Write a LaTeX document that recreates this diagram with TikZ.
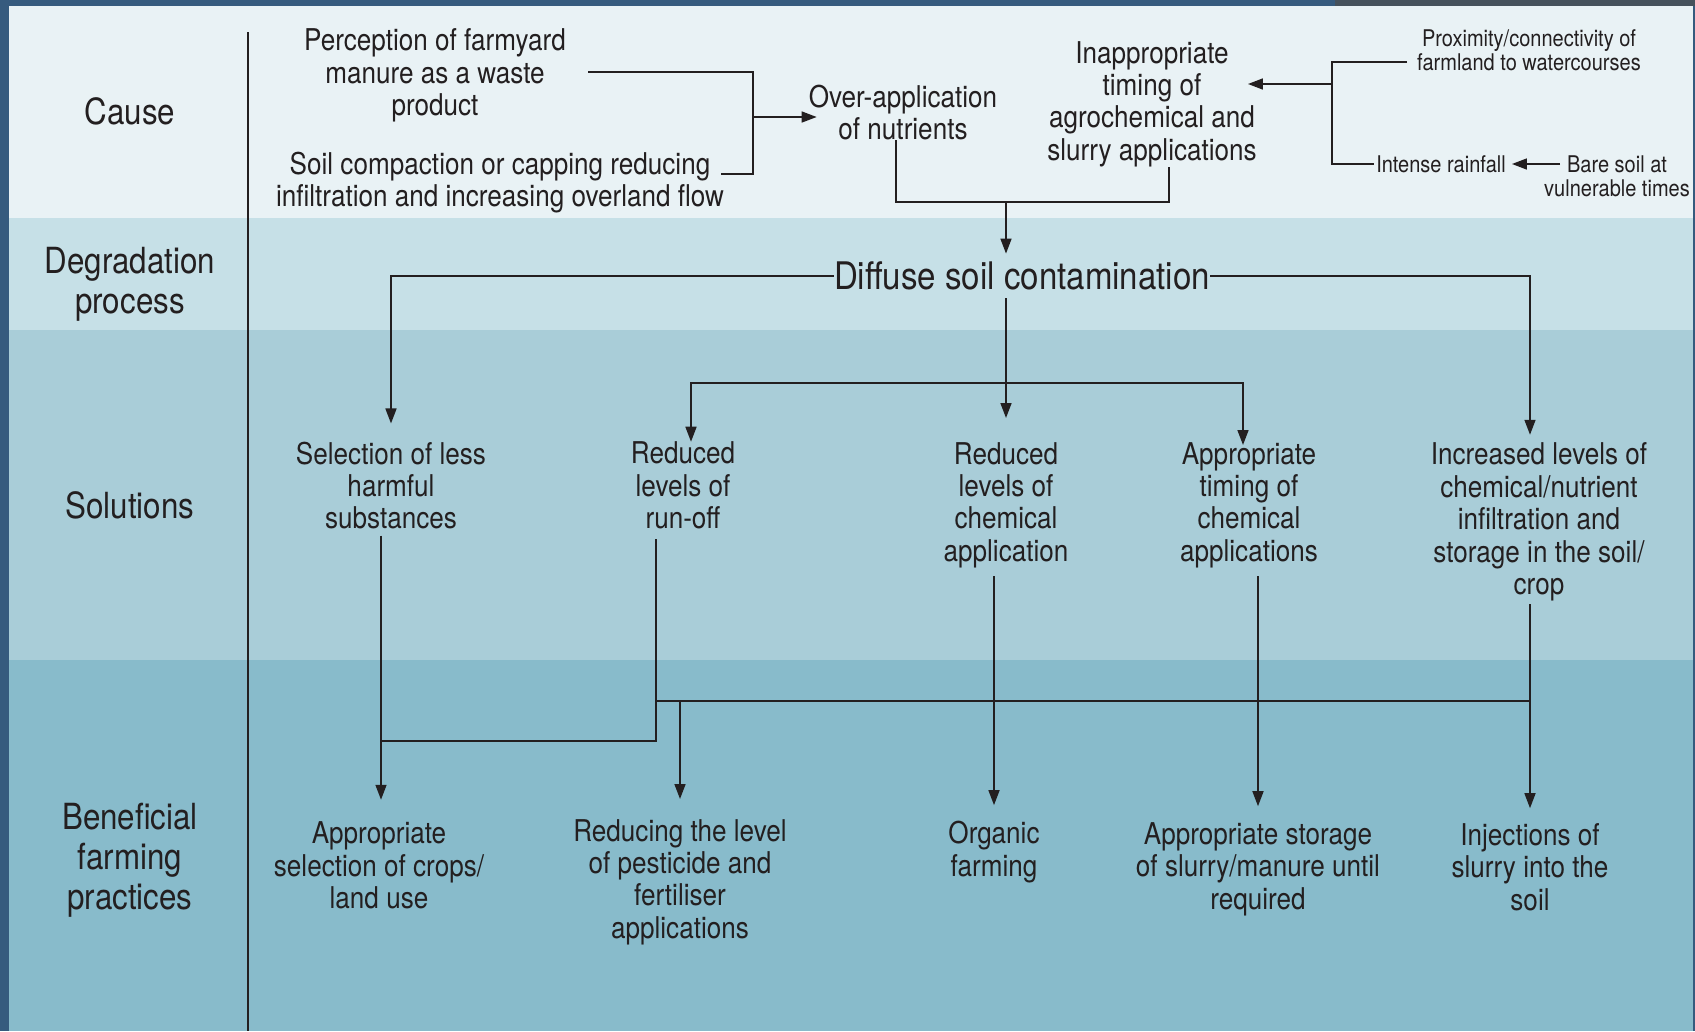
\documentclass[tikz,border=0pt]{standalone}
\usepackage{fontspec}
\setmainfont{TeX Gyre Heros}[FakeStretch=0.87]
\usetikzlibrary{arrows.meta,calc}
\definecolor{framecol}{HTML}{365B7E}
\definecolor{topdark}{HTML}{46525C}
\definecolor{bandA}{HTML}{E9F2F5}
\definecolor{bandB}{HTML}{C6E0E7}
\definecolor{bandC}{HTML}{A9CDD8}
\definecolor{bandD}{HTML}{88BBCB}
\definecolor{ink}{HTML}{231F20}
\tikzset{
  lbl/.style={font=\fontsize{36}{40}\selectfont, align=center, text=ink, inner sep=0pt},
  txt/.style={font=\fontsize{30}{32.4}\selectfont, align=center, text=ink, inner sep=0pt},
  sm/.style={font=\fontsize{23}{24}\selectfont, align=center, text=ink, inner sep=0pt},
  big/.style={font=\fontsize{38}{40}\selectfont, align=center, text=ink, inner sep=0pt},
  conn/.style={draw=ink, line width=1.6pt},
  arr/.style={conn, -{Triangle[length=15pt,width=11pt]}}
}
\begin{document}
\begin{tikzpicture}[x=1pt,y=-1pt]
\useasboundingbox (0,0) rectangle (1695,1031);
% background
\fill[framecol] (0,0) rectangle (1695,1031);
\fill[topdark] (1335,0) rectangle (1695,6);
\fill[bandA] (9,6) rectangle (1693,218);
\fill[bandB] (9,218) rectangle (1693,330);
\fill[bandC] (9,330) rectangle (1693,660);
\fill[bandD] (9,660) rectangle (1693,1031);
\draw[ink, line width=1.5pt] (248,32) -- (248,1031);

% row labels
\node[lbl] (cause) at (130,111) {Cause};
\node[lbl] (degr) at (130,284) {Degradation\\process};
\node[lbl] (sol) at (130,505) {Solutions};
\node[lbl] (ben) at (130,860) {Beneficial\\farming\\practices};

% causes
\node[txt] (perc) at (435,75.5) {Perception of farmyard\\manure as a waste\\product};
\node[txt] (soilc) at (500,182.7) {Soil compaction or capping reducing\\infiltration and increasing overland flow};
\node[txt] (over) at (903,112.4) {Over-application\\of nutrients};
\node[txt] (inapp) at (1152,104) {Inappropriate\\timing of\\agrochemical and\\slurry applications};
\node[sm] (prox) at (1529,50) {Proximity/connectivity of\\farmland to watercourses};
\node[sm] (rain) at (1441,164) {Intense rainfall};
\node[sm] (bare) at (1617,176) {Bare soil at\\vulnerable times};

% degradation
\node[big] (diff) at (1022,276) {Diffuse soil contamination};

% solutions
\node[txt] (sel) at (391,485.5) {Selection of less\\harmful\\substances};
\node[txt] (run) at (683,485.5) {Reduced\\levels of\\run-off};
\node[txt] (chem) at (1006,505) {Reduced\\levels of\\chemical\\application};
\node[txt] (timing) at (1249,505) {Appropriate\\timing of\\chemical\\applications};
\node[txt] (incr) at (1539,522) {Increased levels of\\chemical/nutrient\\infiltration and\\storage in the soil/\\crop};

% beneficial practices
\node[txt] (crops) at (379,865.5) {Appropriate\\selection of crops/\\land use};
\node[txt] (pest) at (680,882) {Reducing the level\\of pesticide and\\fertiliser\\applications};
\node[txt] (org) at (994,852) {Organic\\farming};
\node[txt] (stor) at (1258,869) {Appropriate storage\\of slurry/manure until\\required};
\node[txt] (inj) at (1530,867) {Injections of\\slurry into the\\soil};

% junction coordinates
\coordinate (pEnd) at (588,72);
\coordinate (sEnd) at (721,174);
\coordinate (jA) at (753,117);
\coordinate (jB) at (1006,202);
\coordinate (jC) at (1006,383);
\coordinate (jD) at (381,741);
\coordinate (jE) at (656,701);
\coordinate (jG) at (680,701);
\coordinate (jF) at (1530,701);
\coordinate (jH) at (1332,84);
\coordinate (jI) at (1332,62);

% cause connectors
\draw[conn] (pEnd) -| (jA) |- (sEnd);
\draw[arr] (jA) -- ([xshift=8pt]over.west |- jA);
\draw[conn] ([xshift=-7pt]over.south) |- (jB) -| ([xshift=17pt]inapp.south);
\draw[arr, shorten >=8pt] (jB) -- (jB |- diff.north);
\draw[conn] ([xshift=-10pt]prox.west |- jI) -- (jI) |- ([xshift=-2pt]rain.west);
\draw[arr] (jH) -- ([xshift=-9pt]inapp.east |- jH);
\draw[arr, shorten >=6pt] ([xshift=16pt]bare.west |- rain.east) -- (rain.east);

% degradation connectors
\draw[arr, shorten >=18pt] (diff.west) -| (sel.north);
\draw[arr, shorten >=8pt] (diff.east) -| (jF |- incr.north);
\draw[arr, shorten <=8pt, shorten >=24pt] (jB |- diff.south) -- (jB |- chem.north);
\draw[arr] (jC) -| ([xshift=8pt]run.north);
\draw[arr, shorten >=-3pt] (jC) -| ([xshift=-6pt]timing.north);

% solution connectors
\draw[arr, shorten <=6pt, shorten >=22pt] (jD |- sel.south) -- (jD |- crops.north);
\draw[conn, shorten >=10pt] (jD) -| ([xshift=-27pt]run.south);
\draw[conn] (jE) -- (jF);
\draw[arr, shorten >=20pt] (jG) -- (jG |- pest.north);
\draw[arr, shorten <=3pt, shorten >=15pt] (jF |- incr.south) -- (jF |- inj.north);
\draw[arr, shorten <=8pt, shorten >=16pt] (org.north |- chem.south) -- (org.north);
\draw[arr, shorten <=8pt, shorten >=16pt] (stor.north |- timing.south) -- (stor.north);
\end{tikzpicture}
\end{document}
